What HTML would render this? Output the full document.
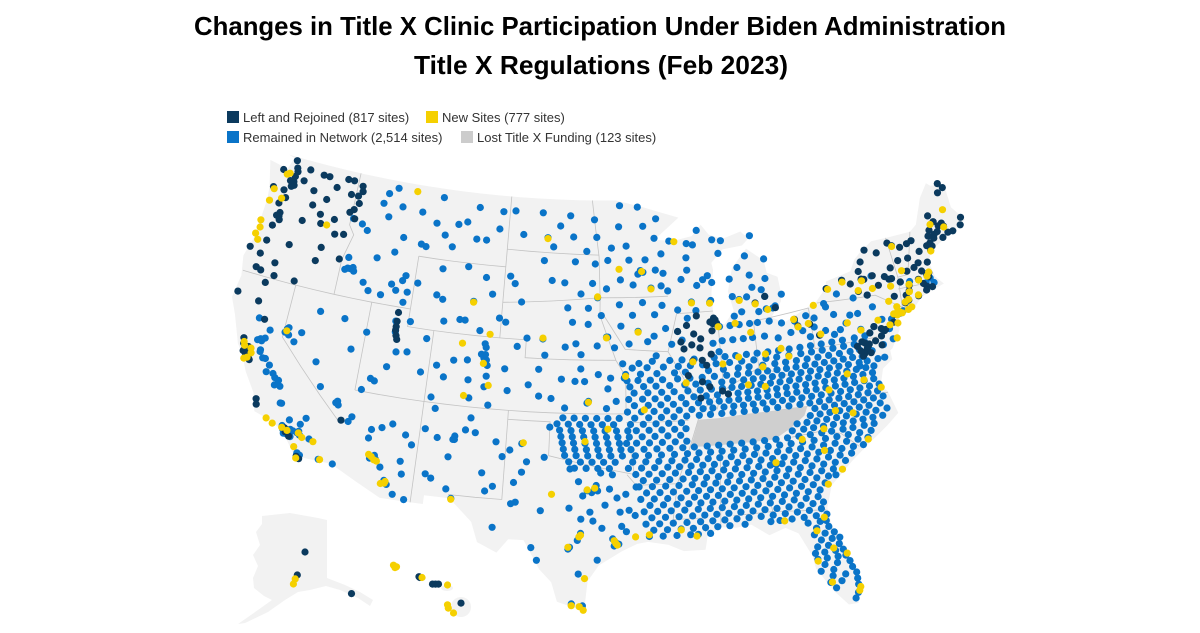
<!DOCTYPE html>
<html><head><meta charset="utf-8">
<style>
html,body{margin:0;padding:0;background:#fff;}
body{width:1200px;height:628px;overflow:hidden;font-family:"Liberation Sans",sans-serif;}
</style></head>
<body>
<svg id="chart" width="1200" height="628" viewBox="0 0 1200 628" xmlns="http://www.w3.org/2000/svg">
  <text x="600" y="35" text-anchor="middle" font-family="Liberation Sans, sans-serif" font-weight="bold" font-size="26" fill="#000" textLength="812" lengthAdjust="spacingAndGlyphs">Changes in Title X Clinic Participation Under Biden Administration</text>
  <text x="601" y="74" text-anchor="middle" font-family="Liberation Sans, sans-serif" font-weight="bold" font-size="26" fill="#000" textLength="374" lengthAdjust="spacingAndGlyphs">Title X Regulations (Feb 2023)</text>
  <g font-family="Liberation Sans, sans-serif" font-size="13" fill="#333">
    <g><rect x="227" y="111" width="12" height="12" fill="#0b3a5e"/><text x="243" y="122">Left and Rejoined (817 sites)</text></g>
    <g><rect x="426" y="111" width="12" height="12" fill="#f5d000"/><text x="442" y="122">New Sites (777 sites)</text></g>
    <g><rect x="227" y="131" width="12" height="12" fill="#0a74c8"/><text x="243" y="142">Remained in Network (2,514 sites)</text></g>
    <g><rect x="461" y="131" width="12" height="12" fill="#cccccc"/><text x="477" y="142">Lost Title X Funding (123 sites)</text></g>
  </g>
  <g id="base"></g>
  <g id="dots"></g>
</svg>
<script>
// ---- data: site locations [lon, lat] ----
const blueRows = [
 [39.9,[-91.3,-90.4,-89.5,-88.0,-87.2,-86.4,-85.6,-84.8,-84.0,-83.2,-82.4,-81.6,-80.8,-80.0,-79.2,-78.4,-77.5,-76.7]],
 [39.55,[-94.1,-93.0,-91.8,-90.7,-89.8,-88.9,-87.9,-86.9,-86.0,-85.1,-84.2,-83.4,-82.5,-81.6,-80.8,-80.0,-79.2,-78.4,-77.6,-76.8]],
 [39.2,[-94.6,-93.5,-92.3,-91.0,-90.2,-88.5,-87.4,-86.3,-85.5,-84.5,-83.6,-82.8,-82.0,-81.2,-80.4,-79.6,-78.8,-78.0,-77.3]],
 [38.85,[-94.5,-93.7,-92.8,-91.9,-90.8,-89.9,-89.0,-88.1,-87.2,-86.4,-85.6,-84.9,-84.2,-83.5,-82.8,-82.1,-81.4,-80.7,-80.0,-79.3,-78.6,-77.9,-77.1]],
 [38.5,[-94.3,-93.3,-92.4,-91.4,-90.3,-89.5,-88.6,-87.6,-86.8,-86.0,-85.3,-84.6,-83.9,-83.2,-82.5,-81.8,-81.1,-80.4,-79.7,-79.0,-78.3,-77.5,-76.9]],
 [38.15,[-94.0,-93.0,-92.0,-91.1,-90.1,-89.2,-88.4,-87.6,-86.9,-86.2,-85.5,-84.8,-84.1,-83.4,-82.7,-82.0,-81.3,-80.6,-79.9,-79.2,-78.5,-77.8,-77.1,-76.5]],
 [37.8,[-94.4,-93.4,-92.5,-91.6,-90.6,-89.7,-88.8,-88.0,-87.2,-86.5,-85.8,-85.1,-84.4,-83.7,-83.0,-82.3,-81.6,-80.9,-80.2,-79.5,-78.8,-78.1,-77.4,-76.7]],
 [37.45,[-94.0,-93.0,-92.1,-91.2,-90.3,-89.4,-88.6,-87.9,-87.2,-86.5,-85.8,-85.1,-84.4,-83.7,-83.0,-82.3,-81.6,-80.9,-80.2,-79.5,-78.8,-78.1,-77.4,-76.7]],
 [37.1,[-94.5,-93.5,-92.6,-91.7,-90.8,-89.9,-89.1,-88.4,-87.6,-86.9,-86.2,-85.5,-84.8,-84.1,-83.4,-82.7,-82.0,-81.3,-80.6,-79.9,-79.2,-78.5,-77.8,-77.1,-76.4]],
 [36.75,[-99.1,-98.3,-97.5,-96.7,-95.9,-95.1,-94.0,-93.0,-92.1,-91.2,-90.3,-89.4,-88.6,-87.8,-87.0,-86.2,-85.4,-84.6,-83.8,-83.0,-82.2,-81.5,-80.8,-80.1,-79.4,-78.7,-78.0,-77.3,-76.6]],
 [36.4,[-99.5,-98.7,-97.9,-97.1,-96.3,-95.5,-94.3,-93.4,-92.5,-91.6,-90.7,-81.2,-80.5,-79.8,-79.1,-78.4,-77.7,-77.0,-76.3]],
 [36.05,[-99.3,-98.5,-97.7,-96.9,-96.1,-95.3,-94.5,-93.9,-93.0,-92.1,-91.2,-90.4,-81.6,-80.9,-80.2,-79.5,-78.8,-78.1,-77.4,-76.6]],
 [35.7,[-99.2,-98.4,-97.6,-96.8,-96.0,-95.2,-94.4,-93.5,-92.6,-91.7,-90.8,-82.6,-81.9,-81.2,-80.5,-79.8,-79.1,-78.4,-77.7,-77.0,-76.2]],
 [35.35,[-99.1,-98.3,-97.5,-96.7,-95.9,-95.1,-94.6,-93.9,-93.0,-92.1,-91.2,-90.4,-83.0,-82.2,-81.5,-80.8,-80.1,-79.4,-78.7,-78.0,-77.3,-76.6]],
 [35.0,[-99.0,-98.2,-97.4,-96.6,-95.8,-95.0,-94.3,-93.4,-92.5,-91.6,-90.7,-89.9,-89.0,-88.2,-87.4,-86.6,-85.8,-85.0,-84.2,-83.4,-82.6,-81.8,-81.0,-80.3,-79.5,-78.8,-78.0,-77.3]],
 [34.65,[-98.9,-98.1,-97.3,-96.5,-95.7,-94.9,-94.0,-93.1,-92.2,-91.3,-90.4,-89.6,-88.8,-88.0,-87.2,-86.4,-85.6,-84.8,-84.0,-83.2,-82.4,-81.6,-80.8,-80.0,-79.2,-78.4,-77.6]],
 [34.3,[-98.6,-97.8,-97.0,-96.2,-95.4,-94.2,-93.3,-92.4,-91.5,-90.6,-89.8,-89.0,-88.2,-87.4,-86.6,-85.8,-85.0,-84.2,-83.4,-82.6,-81.8,-81.0,-80.2,-79.4,-78.6,-77.9]],
 [33.95,[-98.2,-97.4,-96.6,-95.8,-94.5,-93.6,-92.7,-91.8,-91.0,-90.2,-89.4,-88.6,-87.8,-87.0,-86.2,-85.4,-84.6,-83.8,-83.0,-82.2,-81.4,-80.6,-79.8,-79.0,-78.3]],
 [33.6,[-94.0,-93.1,-92.2,-91.3,-90.4,-89.6,-88.8,-88.0,-87.2,-86.4,-85.6,-84.8,-84.4,-84.0,-83.2,-82.4,-81.6,-80.8,-80.0,-79.2]],
 [33.25,[-93.5,-92.6,-91.7,-90.8,-90.0,-89.2,-88.4,-87.6,-86.8,-86.0,-85.2,-84.4,-83.6,-82.8,-82.0,-81.2,-80.4,-79.7]],
 [32.9,[-93.8,-92.9,-92.0,-91.1,-90.2,-89.4,-88.6,-87.8,-87.0,-86.2,-85.4,-84.6,-83.8,-83.0,-82.2,-81.4,-80.6]],
 [32.55,[-93.3,-92.4,-91.5,-90.6,-89.8,-89.0,-88.2,-87.4,-86.6,-85.8,-85.0,-84.2,-83.4,-82.6,-81.8,-81.0,-80.5]],
 [32.2,[-93.7,-92.8,-91.9,-91.0,-90.1,-89.3,-88.5,-87.7,-86.9,-86.1,-85.3,-84.5,-83.7,-82.9,-82.1,-81.3]],
 [31.85,[-93.1,-92.2,-91.3,-90.5,-89.7,-88.9,-88.1,-87.3,-86.5,-85.7,-84.9,-84.1,-83.3,-82.5,-81.7]],
 [31.5,[-93.5,-92.6,-91.7,-90.8,-89.9,-89.1,-88.3,-87.5,-86.7,-85.9,-85.1,-84.3,-83.5,-82.7,-81.9]],
 [31.15,[-93.0,-92.1,-91.2,-90.3,-89.5,-88.7,-87.9,-87.1,-86.3,-85.5,-84.7,-83.9,-83.1,-82.3,-81.6]],
 [30.8,[-93.4,-92.5,-91.6,-90.7,-89.8,-89.0,-88.2,-87.4,-86.6,-85.8,-85.0,-84.2,-83.4,-82.6,-81.8]],
 [30.45,[-92.9,-92.0,-91.1,-90.3,-89.5,-88.7,-87.9,-86.9,-85.2,-84.6,-83.8,-83.0,-82.2,-81.5]],
 [30.1,[-93.2,-92.3,-91.4,-90.5,-90.0,-89.2,-82.8,-82.0,-81.6]],
 [29.75,[-82.3,-81.5]],
 [29.4,[-82.5,-81.8,-81.2]],
 [29.05,[-82.1,-81.4,-80.9]],
 [28.7,[-82.4,-81.7,-81.0]],
 [28.35,[-82.6,-82.0,-81.3,-80.8]],
 [28.0,[-82.5,-81.9,-81.2,-80.7]],
 [27.65,[-82.1,-81.3,-80.5]],
 [27.3,[-82.4,-81.6,-80.4]],
 [26.95,[-81.7,-80.9,-80.2]],
 [26.6,[-81.9,-81.2,-80.2]],
 [26.25,[-81.6,-80.2]],
 [25.8,[-80.3]],
 [25.5,[-80.5]]
];
const blueSites = [
 [-116.2,43.6],[-116.4,43.6],[-116.6,43.5],[-116.0,43.7],[-115.9,43.5],[-114.5,42.6],[-112.4,42.9],[-112.0,43.5],[-111.8,43.8],[-113.5,42.5],[-114.3,44.5],[-116.8,46.4],[-116.0,46.2],[-115.5,45.9],[-116.5,44.2],[-115.0,43.0],[-111.7,42.3],[-111.5,42.9],[-112.8,43.2],
 [-114.0,46.9],[-114.3,48.2],[-112.5,45.9],[-111.0,45.7],[-108.5,45.8],[-106.6,46.4],[-104.8,47.1],[-106.6,48.2],[-109.7,48.5],[-111.3,47.5],[-113.0,47.6],[-110.0,47.0],[-105.8,46.4],[-107.5,47.3],[-114.6,47.6],[-113.6,48.6],[-104.6,48.1],[-108.2,47.1],[-109.2,46.4],[-110.6,45.6],[-113.0,45.0],
 [-105.6,41.3],[-106.3,42.9],[-108.7,42.8],[-110.8,43.5],[-109.0,44.5],[-107.0,44.8],[-105.5,44.3],[-104.2,42.1],[-108.4,41.6],[-110.9,41.3],[-106.8,41.8],[-104.9,43.4],[-109.2,43.0],[-107.2,41.8],
 [-105.0,39.7],[-104.9,39.7],[-105.1,39.8],[-105.0,40.0],[-105.3,40.0],[-105.1,40.6],[-104.8,38.8],[-104.8,39.4],[-105.0,40.4],[-106.3,39.6],[-107.9,38.5],[-108.5,39.1],[-107.3,39.5],[-104.5,37.2],[-103.2,38.1],[-102.7,40.6],[-106.1,38.5],[-103.5,39.3],[-105.9,37.5],[-108.6,37.3],[-104.9,38.2],
 [-111.9,40.6],[-112.0,41.2],[-111.6,39.5],[-112.1,38.6],[-113.6,37.1],[-109.5,40.5],[-110.8,39.6],[-109.6,38.6],[-112.8,37.7],[-113.1,37.8],
 [-119.8,39.5],[-119.7,39.6],[-119.9,39.3],[-119.6,39.2],[-115.1,36.2],[-115.2,36.1],[-115.0,36.0],[-117.7,40.9],[-115.8,40.8],[-114.9,39.2],[-118.7,39.5],[-116.5,36.8],[-117.2,38.1],[-114.0,40.3],[-119.1,38.9],
 [-119.8,36.7],[-120.0,36.9],[-119.7,36.3],[-120.4,37.3],[-121.0,37.6],[-120.5,36.9],[-119.3,36.3],[-119.0,35.4],[-118.9,35.4],[-119.5,36.6],[-120.8,37.6],[-121.3,38.0],[-121.5,38.6],[-121.4,38.5],[-121.2,38.7],[-121.3,37.9],[-121.7,38.5],[-122.0,39.7],[-121.0,39.2],
 [-118.3,34.0],[-118.2,34.05],[-118.4,34.0],[-118.1,33.8],[-118.0,33.9],[-117.9,34.1],[-117.7,34.05],[-117.4,34.0],[-117.3,34.1],[-117.2,33.9],[-117.8,33.7],[-118.5,34.2],[-117.1,32.8],[-117.0,32.7],[-117.1,32.9],[-116.9,32.8],[-116.5,33.8],[-115.6,32.8],[-117.3,34.5],[-117.0,34.9],[-118.1,34.6],[-118.3,33.8],
 [-112.0,33.4],[-112.1,33.5],[-111.8,33.4],[-111.9,33.6],[-112.2,33.4],[-110.9,32.2],[-111.0,32.3],[-110.8,32.1],[-111.7,35.2],[-112.5,34.5],[-114.6,32.7],[-114.1,35.2],[-109.5,34.5],[-110.0,35.0],[-109.9,32.8],[-111.4,33.0],[-112.4,35.0],[-110.3,31.6],[-109.5,31.4],[-113.9,35.5],[-110.1,33.5],[-111.0,35.5],
 [-106.6,35.1],[-106.7,35.1],[-106.6,35.3],[-105.9,35.7],[-106.8,32.3],[-104.5,33.4],[-103.2,34.4],[-108.7,35.5],[-108.2,36.7],[-105.6,36.4],[-107.9,32.8],[-103.7,32.7],[-104.2,32.4],[-106.9,34.1],[-105.2,35.6],[-103.7,35.2],[-107.8,35.1],[-108.3,33.0],
 [-106.4,31.8],[-102.1,31.9],[-102.4,31.8],[-101.8,33.6],[-101.9,35.2],[-100.4,31.5],[-103.5,30.4],[-100.9,29.4],[-100.5,28.7],[-101.5,34.2],[-100.3,34.5],[-102.7,34.8],[-100.0,36.2],[-102.3,33.0],[-98.5,33.9],
 [-96.8,32.8],[-97.3,32.7],[-96.7,33.0],[-97.0,32.6],[-96.6,32.7],[-95.4,29.8],[-95.2,29.7],[-95.5,29.6],[-95.6,30.0],[-97.7,30.3],[-98.5,29.4],[-98.4,29.5],[-97.9,29.9],[-94.7,32.5],[-95.3,32.3],[-94.1,31.3],[-96.3,30.6],[-97.1,31.5],[-97.5,26.2],[-98.2,26.3],[-95.0,30.7],[-94.0,32.9],[-95.6,33.6],[-97.7,31.1],[-98.5,31.7],[-96.1,31.9],[-97.6,32.4],[-95.1,31.5],[-94.7,30.4],[-96.6,28.8],[-97.8,28.0],[-96.4,33.7],[-94.5,31.6],[-97.9,33.2],[-96.9,31.0],[-95.8,32.8],
 [-96.8,46.9],[-100.8,46.8],[-101.3,48.2],[-103.6,48.2],[-98.7,46.9],[-97.0,47.9],[-99.0,48.1],[-102.8,46.9],[-100.3,46.3],[-97.6,46.1],[-99.8,47.5],
 [-96.7,43.5],[-103.2,44.1],[-98.5,45.5],[-100.3,44.4],[-97.1,44.3],[-98.0,43.7],[-101.0,45.5],[-103.6,44.5],[-99.3,44.3],[-97.4,42.9],[-102.6,43.1],[-96.9,45.4],
 [-96.0,41.3],[-96.7,40.8],[-98.3,40.9],[-99.1,40.7],[-100.8,41.1],[-103.7,41.9],[-97.4,42.0],[-102.0,41.1],[-98.6,42.1],[-97.9,40.3],[-100.6,40.2],[-99.0,42.9],
 [-97.3,37.7],[-97.4,37.6],[-95.7,39.0],[-94.7,39.0],[-98.3,38.8],[-99.3,38.9],[-100.9,37.9],[-101.0,39.4],[-95.3,37.7],[-96.6,39.2],[-97.6,38.8],[-99.0,37.3],[-100.0,37.8],[-96.0,37.3],[-97.9,39.5],[-101.7,38.5],[-95.9,38.4],
 [-93.6,41.6],[-91.5,41.7],[-90.6,41.5],[-92.3,42.5],[-94.0,42.5],[-95.9,41.3],[-96.4,42.5],[-93.2,43.2],[-91.7,43.0],[-95.0,43.1],[-94.9,41.9],[-92.9,41.0],[-91.1,40.8],[-94.3,40.9],[-95.4,40.7],[-92.4,41.3],
 [-93.3,45.0],[-93.1,44.9],[-93.5,44.8],[-92.5,44.0],[-94.2,45.6],[-92.1,46.8],[-95.9,45.6],[-94.4,46.4],[-93.0,47.5],[-95.0,47.5],[-94.9,44.5],[-93.9,44.2],[-96.0,44.0],[-91.7,44.1],[-92.9,45.6],[-94.9,48.7],[-93.4,48.6],[-91.9,47.9],[-95.6,46.3],
 [-89.4,43.1],[-88.0,43.0],[-87.9,43.1],[-88.0,44.5],[-89.6,44.9],[-91.5,44.8],[-91.2,43.8],[-90.5,42.7],[-88.4,44.3],[-89.6,45.6],[-90.9,46.6],[-91.6,45.9],[-89.1,42.6],[-87.7,44.1],[-90.1,44.4],[-88.9,44.0],[-92.1,45.0],[-89.0,46.3],
 [-83.0,42.4],[-83.2,42.3],[-83.7,42.3],[-84.5,42.7],[-85.6,42.3],[-85.7,43.0],[-86.2,42.1],[-84.6,43.6],[-83.9,43.4],[-83.7,43.0],[-82.4,43.0],[-85.6,44.8],[-84.7,44.3],[-83.4,45.1],[-86.2,43.2],[-84.9,45.4],[-83.5,44.0],[-84.3,42.2],[-86.3,44.2],[-85.1,43.1],[-87.4,46.5],[-84.3,46.5],[-86.7,46.4],[-88.6,47.1],[-87.0,45.7],[-89.5,46.4],
 [-87.4,41.6],[-86.6,41.6],[-85.9,41.6],[-85.1,41.6],[-87.3,40.8],[-86.5,40.8],[-85.7,40.8],[-85.0,40.8],
 [-84.5,41.6],[-83.6,41.6],[-82.7,41.4],[-81.7,41.4],[-80.8,41.6],[-84.1,40.8],[-83.1,40.6],[-82.1,40.8],[-81.2,40.8],[-80.7,40.4],
 [-90.3,41.0],[-88.0,40.7],[-87.6,40.2],[-89.8,42.2],[-92.3,40.2],[-93.6,39.8],[-94.8,39.8],[-92.6,39.9],
 [-80.0,40.4],[-79.5,40.6],[-80.2,41.4],[-79.2,41.9],[-78.4,40.5],[-77.9,40.8],[-78.9,40.3],[-77.5,41.2],[-76.9,40.3],[-76.3,40.0],[-75.9,40.3],[-75.7,41.4],[-75.2,40.6],[-76.9,41.2],[-78.7,41.4],[-80.3,40.9],
 [-78.9,42.9],[-79.3,42.1],[-77.6,43.2],[-76.1,43.0],[-75.9,42.1],[-77.0,42.1],[-74.0,40.7],[-73.9,40.8],[-73.8,40.7],[-73.5,40.8],[-75.3,43.1],[-73.8,42.7],[-78.2,42.5],
 [-74.5,40.5],[-74.8,40.0],[-74.7,39.4],[-75.5,39.2],[-75.6,38.5],[-76.1,38.5],[-76.4,39.0],[-77.5,38.3],[-77.2,38.8],[-71.0,42.3],[-71.1,42.5],[-70.9,42.2],[-71.3,42.0],[-70.7,41.9],[-72.5,42.3],[-73.2,42.4]
];
const navySites = [
 [-122.3,47.6],[-122.2,47.4],[-122.4,47.3],[-122.6,47.6],[-122.3,47.9],[-122.2,48.2],[-122.5,48.8],[-122.3,48.4],[-123.4,48.1],[-123.8,47.0],[-122.9,47.0],[-122.6,46.6],[-123.0,46.2],[-122.7,45.7],[-121.5,47.8],[-120.5,47.4],[-120.3,46.6],[-119.5,46.2],[-119.3,47.1],[-118.3,46.1],[-117.4,47.7],[-117.2,46.7],[-117.4,48.5],[-117.9,48.5],[-119.5,48.4],[-118.7,47.9],[-120.0,48.4],[-121.2,48.5],
 [-116.6,48.3],[-116.8,47.7],[-116.6,47.3],[-116.9,46.9],[-116.7,46.4],[-116.5,48.0],
 [-123.0,44.9],[-123.1,44.0],[-122.7,45.5],[-122.6,45.3],[-122.9,45.5],[-123.3,42.4],[-122.9,42.3],[-121.3,44.1],[-121.8,42.2],[-120.8,45.6],[-119.3,45.7],[-118.0,45.3],[-117.3,45.4],[-118.8,44.4],[-117.2,44.0],[-124.2,43.4],[-123.3,43.2],[-122.0,42.9],[-120.2,42.2],[-119.0,43.6],
 [-124.1,40.8],[-122.4,40.6],[-122.3,41.7],[-121.6,39.7],[-122.4,37.8],[-122.3,37.6],[-122.1,37.7],[-122.0,37.4],[-122.3,37.9],[-122.5,37.7],[-122.2,38.0],[-121.9,37.3],[-122.1,37.9],[-122.6,38.1],[-122.7,38.4],[-120.7,35.3],[-120.6,35.0],[-118.3,34.1],[-118.2,33.9],[-117.9,33.7],[-117.1,32.7],[-116.9,32.6],[-114.6,35.2],
 [-111.9,41.7],[-111.9,41.2],[-111.9,40.7],[-111.8,40.4],[-111.7,40.2],[-111.9,40.9],
 [-87.7,41.9],[-87.6,41.8],[-87.8,41.9],[-87.7,42.0],[-87.9,41.8],[-87.6,41.7],[-88.1,41.9],[-87.8,42.1],[-89.6,40.7],[-89.0,40.5],[-88.2,40.1],[-89.6,39.8],[-90.2,40.5],[-89.4,41.3],[-88.9,41.0],[-90.6,41.5],[-89.1,42.3],[-90.0,39.0],[-89.0,38.6],[-88.9,39.8],[-88.5,38.3],[-89.2,37.7],[-88.0,41.4],[-90.4,40.9],[-89.9,41.8],[-88.6,39.5],[-87.6,38.0],[-87.2,37.8],
 [-84.5,42.7],[-83.0,42.3],[-83.7,43.0],[-81.7,41.5],[-81.5,41.1],[-80.6,41.1],[-80.0,40.4],
 [-75.2,39.95],[-75.1,40.0],[-75.4,40.1],[-76.6,39.3],[-76.5,39.4],[-77.0,38.9],[-76.9,39.0],[-77.1,38.8],[-76.7,39.2],[-75.9,40.3],[-76.3,40.0],[-77.0,39.6],[-75.5,39.7],[-77.2,39.1],[-76.0,39.5],[-76.5,38.9],[-75.6,39.2],[-77.4,39.4],[-76.8,39.5],[-74.2,40.7],[-74.4,40.3],
 [-75.9,43.0],[-76.1,43.05],[-77.6,43.2],[-78.9,42.9],[-74.0,42.7],[-73.8,42.7],[-75.2,43.1],[-74.5,44.3],[-73.5,44.7],[-75.9,44.0],[-76.5,42.4],[-75.9,42.1],[-74.9,42.5],[-73.7,43.3],[-74.3,42.9],[-75.4,44.6],[-76.2,43.5],[-77.0,42.9],[-73.9,41.7],
 [-73.2,44.5],[-72.6,44.3],[-72.0,44.4],[-73.0,43.6],[-72.5,42.9],[-71.5,43.2],[-71.4,42.7],[-71.1,42.4],[-71.0,42.3],[-70.9,42.5],[-71.8,42.3],[-72.6,42.1],[-73.2,42.4],[-71.3,41.8],[-71.4,41.6],[-72.9,41.3],[-72.7,41.8],[-73.2,41.2],[-72.1,41.4],[-71.5,42.0],[-70.9,41.7],[-71.9,43.0],[-72.2,43.6],[-70.8,43.1],[-71.2,43.8],[-71.6,44.5],[-73.0,41.6],
 [-69.8,44.3],[-69.7,44.5],[-70.2,44.1],[-70.3,43.7],[-69.4,44.6],[-68.8,44.8],[-68.6,44.4],[-69.1,44.2],[-70.0,44.8],[-69.5,45.2],[-68.9,45.0],[-70.2,44.5],[-69.2,44.9],[-68.2,44.4],[-67.5,44.6],[-67.3,45.0],[-68.5,46.7],[-68.0,46.9],[-68.3,47.2],[-69.8,45.6],[-70.5,44.0],[-70.1,43.9]
];
const yellowSites = [
 [-123.0,47.9],[-122.8,48.0],[-123.7,46.9],[-122.9,46.5],[-123.8,46.2],[-124.0,45.0],[-123.9,44.6],[-124.1,44.2],[-123.8,43.9],[-118.8,45.7],
 [-122.6,38.2],[-122.1,37.4],[-122.0,37.95],[-121.9,37.7],[-122.3,37.3],[-122.5,38.0],[-119.8,39.4],
 [-119.7,34.4],[-119.2,34.2],[-118.5,34.1],[-118.1,34.0],[-117.3,34.0],[-117.0,33.8],[-115.5,32.8],[-117.1,32.6],[-116.2,33.7],[-117.4,33.2],[-112.0,48.6],
 [-112.1,33.5],[-111.9,33.35],[-112.3,33.6],[-111.7,33.3],[-110.9,32.25],[-110.95,32.15],[-111.2,32.1],[-106.3,37.6],[-105.1,39.5],[-104.6,38.3],[-106.8,40.5],
 [-97.7,30.2],[-97.8,30.1],[-98.5,29.5],[-95.4,29.75],[-95.3,29.65],[-95.5,29.9],[-97.4,27.75],[-97.45,25.95],[-98.2,26.2],[-97.7,26.15],[-96.8,32.85],[-97.3,32.75],[-101.8,35.25],[-106.4,31.75],[-94.1,30.1],[-99.7,32.45],
 [-90.1,30.0],[-91.1,30.4],[-93.2,30.2],[-80.2,25.9],[-80.1,26.1],[-81.4,28.5],[-82.5,27.9],[-81.8,26.6],[-80.6,28.1],[-84.3,30.4],[-82.3,29.6],[-81.7,30.3],
 [-84.4,33.7],[-81.1,32.1],[-80.0,32.8],[-81.0,34.0],[-82.4,34.8],[-80.8,35.2],[-78.6,35.8],[-79.8,36.1],[-77.9,34.2],[-77.4,37.5],[-76.3,36.9],[-78.5,38.0],[-80.0,37.3],[-85.7,38.2],[-84.5,38.0],
 [-84.5,39.1],[-83.0,40.0],[-81.5,41.05],[-81.75,41.5],[-80.7,41.15],[-84.2,39.8],[-82.5,39.5],[-77.8,40.8],[-76.9,40.25],[-75.5,40.6],[-79.9,40.45],[-80.1,42.1],
 [-73.9,40.7],[-73.8,40.8],[-73.9,40.85],[-74.0,40.65],[-73.6,40.7],[-73.1,40.8],[-72.8,40.9],[-76.1,42.95],[-77.6,43.1],[-78.8,42.85],[-74.4,41.5],[-73.9,41.1],[-75.4,42.4],[-74.0,42.3],[-76.5,42.45],
 [-74.25,40.75],[-74.7,40.2],[-74.1,40.2],[-74.4,39.4],[-72.7,41.75],[-73.2,41.25],[-72.9,41.35],[-72.1,41.45],[-71.1,42.35],[-72.6,42.15],[-71.8,42.25],[-70.9,42.55],
 [-68.8,44.75],[-68.5,45.7],[-70.3,43.65],[-69.8,45.1],[-73.2,44.45],[-72.9,43.0],
 [-87.5,41.6],[-86.2,41.7],[-86.2,39.8],[-87.4,39.5],[-85.1,41.1],[-89.6,39.75],[-89.4,43.05],[-88.0,42.95],[-90.5,46.55],[-83.6,42.25],[-84.5,42.65],[-85.7,42.95],[-93.2,44.95],[-92.5,43.95],[-95.0,45.1],[-93.6,41.55],
 [-94.6,39.1],[-90.2,38.6],[-93.3,37.2],[-97.3,37.65],[-97.5,35.45],[-95.9,36.15],[-96.0,41.25],[-100.8,41.15],[-96.7,43.55],[-100.8,46.75],[-104.8,41.15],[-106.3,42.85]
];
const akSites = [[-147.7,64.8],[-149.9,61.2]];
const akNew = [[-150.5,60.6],[-151.0,59.8]];
const akNavyExtra = [[-134.4,58.3]];
const hiNew = [[-159.6,22.1],[-159.4,22.0],[-159.5,21.95],[-157.7,21.35],[-156.0,20.9],[-156.0,19.7],[-155.95,19.5],[-155.6,19.2]];
const hiNavy = [[-157.9,21.4],[-157.85,21.35],[-157.0,20.95],[-156.8,20.95],[-156.6,20.95],[-155.1,19.8]];
</script>
<script>
const NS='http://www.w3.org/2000/svg';
const D=Math.PI/180;
const n=(Math.sin(29.5*D)+Math.sin(45.5*D))/2;
const Cc=Math.cos(29.5*D)*Math.cos(29.5*D)+2*n*Math.sin(29.5*D);
function rawProj(lon,lat){const rho=Math.sqrt(Cc-2*n*Math.sin(lat*D))/n;const th=n*(lon+96)*D;return [rho*Math.sin(th),rho*Math.cos(th)];}
const refW=rawProj(-124.4,40.4), refS=rawProj(-80.2,25.8);
const SC=1016;
function proj(lon,lat){const p=rawProj(lon,lat);return [232+(p[0]-refW[0])*SC,592+(p[1]-refS[1])*SC];}
function akProj(lon,lat){return [305+(lon+147.7)*3.5,552+(64.8-lat)*6.4];}
function hiProj(lon,lat){return [395+(lon+159.5)*15,566+(22.05-lat)*16.5];}

const usOutline=[[-124.7,48.4],[-124.1,46.9],[-124.0,46.2],[-124.1,44.0],[-124.5,42.8],[-124.2,41.7],[-124.4,40.4],[-123.8,39.5],[-123.0,38.0],[-122.5,37.5],[-121.9,36.6],[-121.0,35.6],[-120.6,34.6],[-119.3,34.3],[-118.4,33.9],[-117.2,32.7],
[-114.7,32.7],[-111.1,31.3],[-108.2,31.3],[-108.2,31.8],[-106.5,31.8],[-104.9,30.6],[-104.4,29.5],[-103.1,29.0],[-102.4,29.8],[-101.4,29.8],[-100.3,28.2],[-99.5,27.5],[-99.1,26.4],[-97.4,25.9],
[-97.2,27.6],[-96.5,28.5],[-95.0,29.3],[-94.0,29.7],[-93.3,29.8],[-92.0,29.6],[-91.0,29.2],[-89.6,29.2],[-89.4,30.0],[-88.5,30.4],[-87.5,30.3],[-86.5,30.4],[-85.4,29.7],[-84.3,30.0],[-83.5,29.6],[-82.8,28.2],[-82.7,27.5],[-81.8,26.1],[-81.0,25.2],[-80.4,25.2],[-80.1,26.5],[-80.6,28.4],[-81.3,29.8],[-81.4,30.8],[-80.9,32.0],[-79.2,33.2],[-78.0,33.9],[-76.5,34.7],[-75.5,35.3],[-75.9,36.6],[-76.3,37.0],[-75.9,37.9],[-75.1,38.3],[-75.1,38.8],[-74.9,38.9],[-74.1,39.8],[-73.9,40.5],[-72.5,40.9],[-71.9,41.3],[-71.0,41.5],[-70.0,41.7],[-70.5,42.2],[-70.6,42.7],[-70.7,43.1],[-70.2,43.7],[-69.0,44.1],[-67.0,44.8],[-67.8,45.7],[-67.8,47.1],[-68.9,47.2],[-69.2,47.4],[-70.0,46.7],[-70.9,45.3],[-71.5,45.0],[-74.7,45.0],[-75.8,44.5],[-76.3,44.2],[-76.8,43.6],[-78.8,43.3],[-79.0,42.9],[-79.8,42.3],[-81.3,41.8],[-82.5,41.4],[-83.4,41.8],[-82.5,42.6],[-82.4,43.0],[-82.5,44.0],[-83.3,44.3],[-83.4,45.0],[-84.7,45.8],[-86.0,44.8],[-86.5,43.5],[-86.2,42.4],[-87.0,41.7],[-87.6,41.8],[-87.8,42.5],[-87.8,43.5],[-87.5,44.8],[-87.6,45.2],[-86.6,45.9],[-85.0,46.0],[-84.5,46.3],[-84.6,46.5],[-85.0,46.8],[-86.5,46.5],[-87.6,46.8],[-88.2,47.4],[-89.0,46.8],[-90.5,46.6],[-92.1,46.7],[-90.0,47.9],[-93.0,48.6],[-95.2,49.0],[-100,49],[-105,49],[-110,49],[-115,49],[-120,49],[-123.3,49.0],[-122.8,48.9],[-123.1,48.2],[-124.7,48.4]];
const tnOutline=[[-90.3,35.0],[-88.2,35.0],[-86,35.0],[-84.3,35.0],[-83.1,35.5],[-82.0,36.1],[-81.7,36.6],[-84,36.6],[-86,36.6],[-88.1,36.5],[-89.5,36.5],[-89.7,36.0],[-90.1,35.1]];
const borders=[[[-124.2,42],[-120,42],[-117,42],[-114.05,42],[-111.05,42]],[[-120,42],[-120,39],[-114.6,35.0]],[[-114.05,42],[-114.05,37]],[[-114.05,37],[-109.05,37],[-103,37],[-100,37],[-94.6,37]],[[-111.05,45],[-111.05,41],[-104.05,41],[-102.05,41],[-102.05,40],[-95.3,40]],[[-111.05,45],[-107,45],[-104.05,45]],[[-104.05,49],[-104.05,41]],[[-109.05,41],[-109.05,31.3]],[[-117,49],[-117,46],[-116.5,45.5],[-117,44],[-117,42]],[[-103,37],[-103,36.5],[-100,36.5],[-100,34.6]],[[-103,36.5],[-103,32],[-106.6,32]],[[-97.2,49],[-96.6,45.8],[-96.5,43.5],[-104.05,43]],[[-104.05,46],[-96.6,45.9]],[[-94.6,37],[-94.6,39.1],[-95.3,40],[-96.5,42.5],[-96.5,43.5]],[[-91.4,40.4],[-94.6,40.6],[-96.2,42.5]],[[-91.2,43.5],[-96.5,43.5]],[[-88.1,37.0],[-87.5,38.5],[-87.5,41.7]],[[-84.8,41.7],[-84.8,39.1]],[[-80.5,42],[-80.5,39.7],[-75.8,39.7]],[[-79.8,42.2],[-75.3,42.0],[-73.5,41.0]],[[-73.5,45],[-73.3,42.7],[-73.5,41.0]],[[-71.5,45],[-72.5,42.7],[-73.3,42.7]],[[-71.8,42],[-73.5,42.05]],[[-94.6,33.6],[-94.0,33.0],[-91.2,33.0],[-91.6,31],[-89.7,31],[-89.5,30.2]],[[-88.5,30.4],[-88.1,35.0]],[[-85.0,31.0],[-85.6,35.0]],[[-87.6,31],[-85.0,31.0],[-81.5,30.7]],[[-83.1,35.0],[-81,35.1],[-79.7,34.8],[-78.6,33.9]],[[-83.7,36.6],[-75.9,36.55]],[[-90.2,36.5],[-94.6,36.5]],[[-94.4,35.4],[-94.1,33.6],[-100,34.6]],[[-91.2,33.0],[-90.2,35],[-89.5,36.5],[-89.1,37],[-91.4,40.4],[-90.6,42.5],[-87.8,42.5]],[[-84.8,41.7],[-80.5,42]],[[-82.6,38.4],[-84.8,39.1],[-88.1,37.8],[-89.1,37]]];

function densify(pts,fn){let out=[];for(let i=0;i<pts.length;i++){const a=pts[i];out.push(fn(a[0],a[1]));if(i<pts.length-1){const b=pts[i+1];const steps=Math.max(1,Math.ceil(Math.max(Math.abs(b[0]-a[0]),Math.abs(b[1]-a[1]))/2));for(let s=1;s<steps;s++){out.push(fn(a[0]+(b[0]-a[0])*s/steps,a[1]+(b[1]-a[1])*s/steps));}}}return out;}
function ptsStr(arr){return arr.map(p=>p[0].toFixed(1)+','+p[1].toFixed(1)).join(' ');}

const base=document.getElementById('base');
const us=document.createElementNS(NS,'polygon');
us.setAttribute('points',ptsStr(densify(usOutline,proj)));
us.setAttribute('fill','#f2f2f2');


base.appendChild(us);
borders.forEach(b=>{
  const l=document.createElementNS(NS,'polyline');
  l.setAttribute('points',ptsStr(densify(b,proj)));
  l.setAttribute('fill','none');l.setAttribute('stroke','#c4c4c4');l.setAttribute('stroke-width','0.8');
  
  
  base.appendChild(l);
});
const tn=document.createElementNS(NS,'polygon');
tn.setAttribute('points',ptsStr(densify(tnOutline,proj)));
tn.setAttribute('fill','#cfcfcf');


base.appendChild(tn);
const ak=document.createElementNS(NS,'polygon');
ak.setAttribute('points','262,516 290,513 318,518 327,520 327,578 345,585 360,592 373,600 370,606 358,598 340,590 326,586 310,590 298,592 285,600 268,612 245,623 238,624 258,610 272,600 264,596 254,588 253,578 258,566 253,555 260,545 256,532 262,524');
ak.setAttribute('fill','#f2f2f2');


base.appendChild(ak);
[[395,566,4,3],[421,578,5,3],[436,585,4,2],[447,588,6,3],[461,607,10,10]].forEach(h=>{
  const e=document.createElementNS(NS,'ellipse');
  e.setAttribute('cx',h[0]);e.setAttribute('cy',h[1]);e.setAttribute('rx',h[2]);e.setAttribute('ry',h[3]);e.setAttribute('fill','#f2f2f2');
  
  
  base.appendChild(e);
});

const dots=document.getElementById('dots');
function dot(p,color,name){
  const c=document.createElementNS(NS,'circle');
  c.setAttribute('cx',p[0].toFixed(1));c.setAttribute('cy',p[1].toFixed(1));c.setAttribute('r','3.6');c.setAttribute('fill',color);
  
  
  dots.appendChild(c);
}
const BLUE='#0a74c8',NAVY='#0b3a5e',YEL='#f5d000';
blueRows.forEach(r=>r[1].forEach(lon=>dot(proj(lon,r[0]),BLUE,'site-remained')));
blueSites.forEach(s=>dot(proj(s[0],s[1]),BLUE,'site-remained'));
navySites.forEach(s=>dot(proj(s[0],s[1]),NAVY,'site-left-rejoined'));
yellowSites.forEach(s=>dot(proj(s[0],s[1]),YEL,'site-new'));
akSites.forEach(s=>dot(akProj(s[0],s[1]),NAVY,'site-left-rejoined'));
akNavyExtra.forEach(s=>dot(akProj(s[0],s[1]),NAVY,'site-left-rejoined'));
akNew.forEach(s=>dot(akProj(s[0],s[1]),YEL,'site-new'));
hiNavy.forEach(s=>dot(hiProj(s[0],s[1]),NAVY,'site-left-rejoined'));
hiNew.forEach(s=>dot(hiProj(s[0],s[1]),YEL,'site-new'));
</script>
</body></html>
